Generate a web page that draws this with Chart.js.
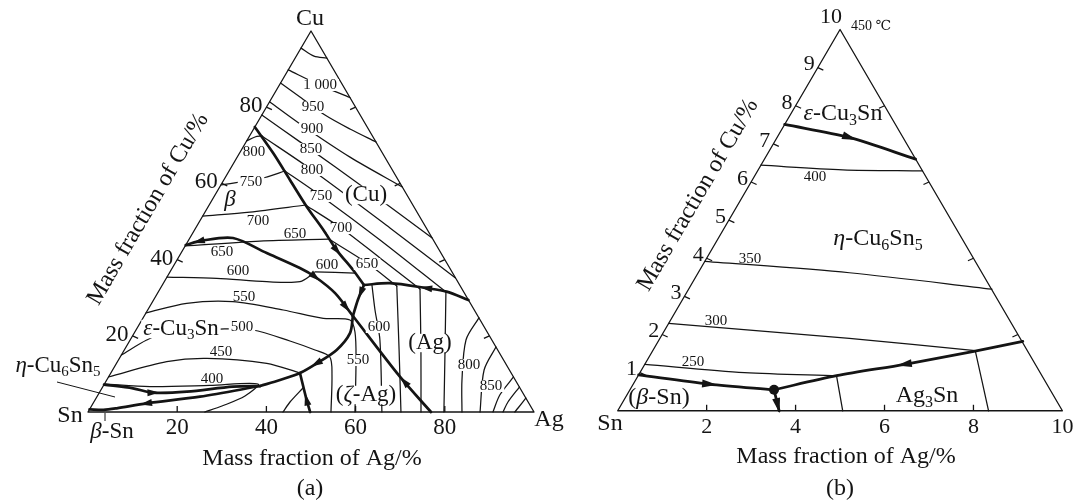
<!DOCTYPE html>
<html>
<head>
<meta charset="utf-8">
<script src="https://cdn.jsdelivr.net/npm/chart.js@4.4.1/dist/chart.umd.min.js"></script>
<style>
  html, body { margin: 0; padding: 0; background: #fff; }
  #wrap { position: relative; width: 1088px; height: 503px; overflow: hidden; }
  canvas { position: absolute; top: 0; }
  #panelA { left: 0; }
  #panelB { left: 544px; }
</style>
</head>
<body>
<div id="wrap">
  <canvas id="panelA" width="584" height="503"></canvas>
  <canvas id="panelB" width="544" height="503"></canvas>
</div>
<script>
// Compositions are [Ag mass %, Cu mass %]; Sn is the balance.

// ---------- (a) liquidus projection, full composition triangle ----------
// univariant (three-phase) lines, in the order of falling temperature
const aT1        = [[0,74.8],[7.6,67.9],[14.84,60.9],[22.1,53.9],[28.9,47.77],[34.5,42.5],[40.8,37.27],[45.2,33.33]];
const aJ0J1      = [[45.2,33.33],[45.8,29.4],[46.8,25.2]];
const aAgLiq     = [[70.6,29.4],[64.6,31.6],[59.7,32.5],[50.8,33.8],[45.2,33.33]];
const aEpsB      = [[0,43.83],[3.0,44.96],[9.68,45.67],[19.2,41.73],[28.6,37.8],[33.15,35.5],[39.8,31.2],[46.8,25.2]];
const aJ1P       = [[46.8,25.2],[48.4,20.7],[47.6,16.3],[44.9,12.78],[42.4,10.24],[38.85,8.4],[35.2,6.82]];
const aEpsEta    = [[0,7.2],[6.98,6.22],[12.0,5.07],[19.5,5.33],[29.2,6.64],[35.2,6.82]];
const aEtaSn     = [[35.2,6.82],[23.1,4.02],[12.0,2.28],[5.94,0.97],[3.2,0.55],[0,0.7]];
const aZetaAg3Sn = [[49.8,0],[47.45,3.15],[42.4,10.24]];
const aZetaAg    = [[76.9,0],[65.3,9.27],[46.8,25.2]];

// liquidus isotherms (°C)
const a1050    = [[0,95.5],[3.97,93.4],[7.1,92.9]];
const a1000    = [[0,89.8],[9.1,85.8],[17.45,82.55]];
const a950     = [[0,86.35],[6.18,82.7],[14.16,77.95],[21.6,74.28],[29.1,70.9]];
const a900     = [[0,81.4],[9.73,75.6],[25.3,66.9],[40.94,59.06]];
const a850     = [[0,77.95],[12.08,70.9],[34.35,57.74],[54.33,45.67]];
const a800Beta = [[0,71.13],[1.35,72.18],[2.79,72.44]];
const a800Cu   = [[2.79,72.44],[18.5,63.5],[43.56,48.3],[64.8,35.2]];
const a750Beta = [[0,59.58],[8.9,61.55],[12.54,63.25]];
const a750Cu   = [[12.54,63.25],[23.9,56.7],[42.9,45.15],[64.5,31.5]];
const a750Ag   = [[64.5,31.5],[71.9,16.3],[79.8,0]];
const a700Beta = [[0,51.44],[10.07,52.49],[21.6,54.33]];
const a700Cu   = [[21.6,54.33],[32.6,48.3],[45.25,40.43],[58.3,32.28]];
const a700Ag   = [[58.3,32.28],[66.5,16.3],[74.66,0]];
const a650Eps  = [[0,43.57],[16.1,44.88],[31.3,45.4]];
const a650Cu   = [[31.3,45.4],[43.0,39.1],[52.7,33.07]];
const a650Ag   = [[52.7,33.07],[61.6,16.3],[70.17,0]];
const a600Eps  = [[0,35.43],[11.3,35.09],[22.97,34.2],[30.43,34.2],[32.5,36.5]];
const a600Mid  = [[32.5,36.75],[41.6,36.48]];
const a600Ag   = [[47.0,33.33],[50.96,26.78],[56.0,18.9],[65.9,0]];
const a550     = [[0,25.98],[7.86,28.53],[18.0,28.95],[30.4,26.77],[40.46,24.59],[46.67,24.15],[49.36,21.0],[53.27,13.65],[59.86,0]];
const a500     = [[0,14.96],[3.71,18.9],[7.75,21.26],[18.7,21.78],[26.2,21.52],[35.96,18.64],[42.76,16.27],[47.0,14.44],[49.85,9.71],[54.48,0]];
const a450     = [[0,9.19],[11.05,13.2],[19.56,14.1],[33.68,12.78],[42.4,10.24]];
const a450Ag3Sn= [[45.05,6.3],[43.98,2.62],[43.72,0]];
const a400     = [[0,7.35],[10.58,6.64],[23.87,6.96],[34.44,7.35],[33.1,4.2],[29.25,1.57],[26.2,0]];
const a800Ag   = [[75.3,24.7],[75.3,18.9],[79.65,8.4],[83.85,0]];
const a850Ag   = [[82.94,17.06],[83.3,11.02],[87.9,0]];
const a900Ag   = [[90.81,9.19],[90.1,4.46],[90.8,0]];
const a950Ag   = [[93.44,6.56],[92.85,2.62],[93.05,0]];
const aAgCorner= [[96.33,3.67],[95.9,1.05],[95.7,0]];

const aTicks = [20, 40, 60, 80];

// ---------- (b) Sn-rich corner, 0-10 % ----------
const bEpsEta    = [[0,7.51],[1.62,7.17],[3.4,6.6]];
const bSnEta     = [[0,0.94],[1.7,0.70],[3.24,0.55]];
const bAg3SnEta  = [[8.2,1.82],[7.23,1.56],[5.85,1.22],[4.46,0.92],[3.24,0.55]];
const bEutDrop   = [[3.24,0.55],[3.63,0]];
const b400       = [[0,6.44],[1.9,6.32],[3.71,6.29]];
const b350       = [[0,3.92],[3.4,3.62],[6.82,3.19]];
const b300       = [[0,2.29],[4.26,1.9],[7.25,1.58]];
const b250       = [[0,1.22],[2.35,1.0],[4.46,0.92]];
const bSolvus1   = [[4.46,0.92],[5.06,0]];
const bSolvus2   = [[7.25,1.58],[8.34,0]];
const bEutectic  = [[3.24,0.55]];

const bBaseTicks  = [2, 4, 6, 8];
const bBaseLabels = [2, 4, 6, 8, 10];
const bLeftTicks  = [1, 2, 3, 4, 5, 6, 7, 8, 9];
const bRightTicks = [2, 4, 6, 8];

// ---------- drawing ----------
const FONT = '"Liberation Serif","Times New Roman","DejaVu Serif",serif';
const INK = '#141414';

function richParts(s) {
  const out = []; const re = /(_[^_]+_|~[^~]+~)/g; let last = 0, m;
  while ((m = re.exec(s))) {
    if (m.index > last) out.push({ t: s.slice(last, m.index) });
    const tok = m[0];
    out.push(tok[0] === '_' ? { t: tok.slice(1, -1), it: true } : { t: tok.slice(1, -1), sub: true });
    last = re.lastIndex;
  }
  if (last < s.length) out.push({ t: s.slice(last) });
  return out;
}

function drawRich(ctx, s, x, y, size, o) {
  o = o || {};
  const parts = richParts(s);
  const fontOf = p => `${p.it ? 'italic ' : ''}${p.sub ? Math.round(size * 0.66) : size}px ${FONT}`;
  let w = 0;
  parts.forEach(p => { ctx.font = fontOf(p); p.w = ctx.measureText(p.t).width; w += p.w; });
  ctx.save();
  ctx.translate(x, y);
  if (o.rot) ctx.rotate(o.rot);
  let sx = o.align === 'left' ? 0 : o.align === 'right' ? -w : -w / 2;
  if (o.bg) { ctx.fillStyle = '#fff'; ctx.fillRect(sx - 2, -size * 0.4, w + 4, size * 0.8); }
  ctx.fillStyle = INK; ctx.textBaseline = 'middle'; ctx.textAlign = 'left';
  parts.forEach(p => { ctx.font = fontOf(p); ctx.fillText(p.t, sx, p.sub ? size * 0.28 : 0); sx += p.w; });
  ctx.restore();
}

function makePanel(id, P) {
  const cv = document.getElementById(id);
  const W = cv.width, H = cv.height;
  const toXY = ([ag, cu]) => ({ x: ag + cu / 2, y: cu });
  const line = (pts, w, t) => ({
    data: pts.map(toXY), showLine: true, borderColor: INK, borderWidth: w,
    pointRadius: 0, tension: t, fill: false, borderCapStyle: 'round', borderJoinStyle: 'round'
  });
  const datasets = [line([[0,0],[P.max,0],[0,P.max],[0,0]], P.frameW, 0)];
  P.thin.forEach(d => datasets.push(line(d, P.thinW, 0.3)));
  P.thick.forEach(d => datasets.push(line(d, P.thickW, 0.3)));
  if (P.dots) datasets.push({ data: P.dots.map(toXY), showLine: false, pointRadius: P.dotR,
    pointBackgroundColor: INK, pointBorderWidth: 0 });

  const deco = {
    id: 'deco',
    afterDatasetsDraw(chart) {
      const ctx = chart.ctx, sx = chart.scales.x, sy = chart.scales.y;
      const px = ([ag, cu]) => [sx.getPixelForValue(ag + cu / 2), sy.getPixelForValue(cu)];
      const seg = (p, d) => { ctx.beginPath(); ctx.moveTo(p[0], p[1]); ctx.lineTo(p[0] + d[0], p[1] + d[1]); ctx.stroke(); };
      ctx.save();
      ctx.strokeStyle = INK; ctx.lineWidth = P.frameW; ctx.lineCap = 'butt';
      P.baseTicks.forEach(v => seg(px([v, 0]), [0, -6]));
      P.leftTicks.forEach(v => seg(px([0, v]), [5.5, 2.5]));
      P.rightTicks.forEach(v => seg(px([P.max - v, v]), [-5.5, 2.5]));

      // direction arrows along univariant lines
      ctx.fillStyle = INK;
      P.arrows.forEach(a => {
        const pts = a.c.map(px);
        const i = Math.min(Math.floor(a.at), pts.length - 2), t = a.at - i;
        const A = pts[i], B = pts[i + 1];
        const x = A[0] + (B[0] - A[0]) * t, y = A[1] + (B[1] - A[1]) * t;
        let dx = (B[0] - A[0]) * a.dir, dy = (B[1] - A[1]) * a.dir;
        const L = Math.hypot(dx, dy); dx /= L; dy /= L;
        const len = P.arrowLen, hw = P.arrowW / 2;
        const tip = [x + dx * len * 0.55, y + dy * len * 0.55];
        const bx = x - dx * len * 0.45, by = y - dy * len * 0.45;
        ctx.beginPath();
        ctx.moveTo(tip[0], tip[1]);
        ctx.lineTo(bx - dy * hw, by + dx * hw);
        ctx.lineTo(bx + dy * hw, by - dx * hw);
        ctx.closePath(); ctx.fill();
      });

      // leader lines of the phase labels
      ctx.lineWidth = 1;
      (P.leaders || []).forEach(l => { ctx.beginPath(); ctx.moveTo(l[0], l[1]); ctx.lineTo(l[2], l[3]); ctx.stroke(); });

      // tick labels
      P.baseLabels.forEach(v => { const p = px([v, 0]); drawRich(ctx, String(v), p[0], p[1] + P.baseLabelDy, P.tickFont); });
      P.leftLabels.forEach(v => { const p = px([0, v]); drawRich(ctx, String(v), p[0] + P.leftDx, p[1] + P.leftDy, P.tickFont, { align: 'right' }); });

      // texts
      const s0 = px([0, 0]), s1 = px([0, P.max]);
      const edgeAngle = Math.atan2(s1[1] - s0[1], s1[0] - s0[0]);
      P.texts.forEach(([s, x, y, size, o]) => {
        o = Object.assign({}, o || {});
        if (o.rot === 'edge') o.rot = edgeAngle;
        drawRich(ctx, s, x, y, size, o);
      });
      ctx.restore();
    }
  };

  return new Chart(cv, {
    type: 'scatter',
    data: { datasets },
    options: {
      responsive: false, animation: false, devicePixelRatio: 1, events: [],
      layout: { padding: 0 },
      plugins: { legend: { display: false }, tooltip: { enabled: false } },
      scales: {
        x: { type: 'linear', display: false, min: -P.ox / P.ux, max: (W - P.ox) / P.ux },
        y: { type: 'linear', display: false, min: -(H - P.oy) / P.uy, max: P.oy / P.uy }
      }
    },
    plugins: [deco]
  });
}

makePanel('panelA', {
  max: 100, ox: 88, oy: 412, ux: 4.46, uy: 3.81,
  frameW: 1.3, thinW: 1.25, thickW: 2.7, arrowLen: 12, arrowW: 7,
  thin: [a1050, a1000, a950, a900, a850, a800Beta, a800Cu, a750Beta, a750Cu, a750Ag,
         a700Beta, a700Cu, a700Ag, a650Eps, a650Cu, a650Ag, a600Eps, a600Mid, a600Ag,
         a550, a500, a450, a450Ag3Sn, a400, a800Ag, a850Ag, a900Ag, a950Ag, aAgCorner],
  thick: [aT1, aJ0J1, aAgLiq, aEpsB, aJ1P, aEpsEta, aEtaSn, aZetaAg3Sn, aZetaAg],
  arrows: [
    { c: aT1, at: 5, dir: 1 }, { c: aJ0J1, at: 0.5, dir: 1 }, { c: aAgLiq, at: 2, dir: 1 },
    { c: aEpsB, at: 0.85, dir: -1 }, { c: aEpsB, at: 5, dir: 1 }, { c: aEpsB, at: 6.6, dir: 1 },
    { c: aJ1P, at: 3, dir: 1 }, { c: aEpsEta, at: 2, dir: 1 }, { c: aEtaSn, at: 2, dir: 1 },
    { c: aZetaAg3Sn, at: 1, dir: 1 }, { c: aZetaAg, at: 0.85, dir: 1 }
  ],
  baseTicks: aTicks, leftTicks: aTicks, rightTicks: aTicks,
  baseLabels: aTicks, leftLabels: aTicks,
  tickFont: 23, baseLabelDy: 16, leftDx: -4, leftDy: -1,
  leaders: [[57, 382, 115, 397], [105, 413, 105, 421]],
  texts: [
    ['Cu', 310, 19, 24], ['Sn', 70, 416, 24], ['Ag', 549, 420, 24],
    ['Mass fraction of Ag/%', 312, 459, 24], ['(a)', 310, 489, 24],
    ['Mass fraction of Cu/%', 148, 209, 24, { rot: 'edge' }],
    ['_β_', 230, 200, 23], ['(Cu)', 366, 195, 23, { bg: 1 }], ['(Ag)', 430, 343, 23, { bg: 1 }],
    ['(_ζ_-Ag)', 366, 395, 23, { bg: 1 }], ['_ε_-Cu~3~Sn', 181, 329, 23, { bg: 1 }],
    ['_η_-Cu~6~Sn~5~', 58, 366, 23], ['_β_-Sn', 112, 432, 23],
    ['1 000', 320, 85, 15, { bg: 1 }], ['950', 313, 107, 15, { bg: 1 }], ['900', 312, 129, 15, { bg: 1 }],
    ['850', 311, 149, 15, { bg: 1 }], ['800', 312, 170, 15, { bg: 1 }], ['750', 321, 196, 15, { bg: 1 }],
    ['700', 341, 228, 15, { bg: 1 }], ['650', 367, 264, 15, { bg: 1 }], ['600', 327, 265, 15],
    ['650', 295, 234, 15], ['650', 222, 252, 15], ['600', 238, 271, 15], ['550', 244, 297, 15],
    ['500', 242, 327, 15, { bg: 1 }], ['450', 221, 352, 15], ['400', 212, 379, 15],
    ['800', 254, 152, 15], ['750', 251, 182, 15, { bg: 1 }], ['700', 258, 221, 15],
    ['600', 379, 327, 15, { bg: 1 }], ['550', 358, 360, 15, { bg: 1 }],
    ['800', 469, 365, 15, { bg: 1 }], ['850', 491, 386, 15, { bg: 1 }]
  ]
});

makePanel('panelB', {
  max: 10, ox: 70, oy: 414, ux: 45.3, uy: 38.9,
  frameW: 1.3, thinW: 1.25, thickW: 2.8, arrowLen: 15, arrowW: 8,
  thin: [b400, b350, b300, b250, bSolvus1, bSolvus2],
  thick: [bEpsEta, bSnEta, bAg3SnEta, bEutDrop],
  dots: bEutectic, dotR: 5,
  arrows: [
    { c: bEpsEta, at: 1, dir: 1 }, { c: bSnEta, at: 1, dir: 1 },
    { c: bAg3SnEta, at: 2, dir: 1 }, { c: bEutDrop, at: 0.72, dir: 1 }
  ],
  baseTicks: bBaseTicks, leftTicks: bLeftTicks, rightTicks: bRightTicks,
  baseLabels: bBaseLabels, leftLabels: bLeftTicks,
  tickFont: 22, baseLabelDy: 16, leftDx: -3, leftDy: -3,
  texts: [
    ['10', 298, 17, 22, { align: 'right' }], ['450 ℃', 307, 26, 14, { align: 'left' }],
    ['Sn', 66, 424, 24],
    ['Mass fraction of Ag/%', 302, 457, 24], ['(b)', 296, 489, 24],
    ['Mass fraction of Cu/%', 154, 195, 24, { rot: 'edge' }],
    ['_ε_-Cu~3~Sn', 299, 114, 24], ['_η_-Cu~6~Sn~5~', 334, 239, 24],
    ['(_β_-Sn)', 115, 398, 24], ['Ag~3~Sn', 383, 396, 24],
    ['400', 271, 177, 15], ['350', 206, 259, 15], ['300', 172, 321, 15], ['250', 149, 362, 15]
  ]
});
</script>
</body>
</html>
